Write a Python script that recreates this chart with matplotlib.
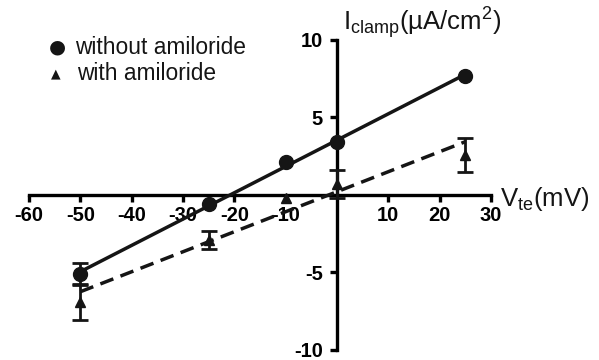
import matplotlib
matplotlib.use("Agg")
import matplotlib.pyplot as plt
import numpy as np

plt.rcParams['font.family'] = ['Liberation Sans', 'DejaVu Sans']
plt.rcParams['mathtext.fontset'] = 'custom'
plt.rcParams['mathtext.rm'] = 'Liberation Sans'
plt.rcParams['mathtext.it'] = 'Liberation Sans:italic'
plt.rcParams['mathtext.bf'] = 'Liberation Sans:bold'

# Data
voltage = [-50, -25, -10, 0, 25]
without_mean = [-5.1, -0.6, 2.1, 3.4, 7.7]
without_err = [0.7, 0.0, 0.0, 0.0, 0.0]
with_mean = [-6.9, -2.9, -0.2, 0.7, 2.6]
with_err = [1.15, 0.6, 0.0, 0.9, 1.1]
xticks = [-60, -50, -40, -30, -20, -10, 10, 20, 30]
yticks = [-10, -5, 5, 10]

fig = plt.figure(figsize=(5.99, 3.6), dpi=100)
ax = fig.add_axes([0.0484, 0.028, 0.7713, 0.8609])
ax.set_xlim(-60, 30)
ax.set_ylim(-10, 10)

lw = 2.4
for side in ['top', 'right']:
    ax.spines[side].set_visible(False)
ax.spines['left'].set_position(('data', 0))
ax.spines['bottom'].set_position(('data', 0))
ax.spines['left'].set_linewidth(lw)
ax.spines['bottom'].set_linewidth(lw)

ax.set_xticks(xticks)
ax.set_yticks(yticks)
ax.set_xticklabels([str(t) for t in xticks], fontweight='bold', fontsize=14.5)
ax.set_yticklabels([str(t) for t in yticks], fontweight='bold', fontsize=14.5)
ax.tick_params(axis='x', direction='out', length=5, width=lw, pad=3)
ax.tick_params(axis='y', direction='out', length=5, width=lw, pad=5)

xv = np.array(voltage, dtype=float)
ink = '#151515'
# Linear regressions
for means, ls in [(without_mean, '-'), (with_mean, (0, (4.0, 2.2)))]:
    slope, icpt = np.polyfit(xv, np.array(means), 1)
    xx = np.array([xv.min(), xv.max()])
    ax.plot(xx, slope * xx + icpt, color=ink, lw=2.5, linestyle=ls,
            clip_on=False, zorder=3)

def draw(means, errs, marker, ms):
    m = np.array(means)
    e = np.array(errs)
    has = e > 0
    ax.errorbar(xv[has], m[has], yerr=e[has], fmt='none', ecolor=ink,
                capsize=6, elinewidth=2, capthick=2, clip_on=False, zorder=4)
    ax.plot(xv, m, linestyle='none', marker=marker, markersize=ms, color=ink,
            clip_on=False, zorder=5)

draw(without_mean, without_err, 'o', 10)
draw(with_mean, with_err, '^', 7)

# Legend (manual)
fig.text(57 / 599, 1 - 47 / 360, '\u25CF', fontsize=14, ha='center', va='center', color=ink,
         family=['DejaVu Sans'])
fig.text(75 / 599, 1 - 47 / 360, 'without amiloride', fontsize=16.4, ha='left', va='center',
         color=ink)
fig.text(56 / 599, 1 - 74 / 360, '\u25B2', fontsize=9, ha='center', va='center', color=ink,
         family=['DejaVu Sans'])
fig.text(77 / 599, 1 - 74 / 360, 'with amiloride', fontsize=16.4, ha='left', va='center',
         color=ink)

# Axis titles
fig.text(343 / 599, 1 - 30 / 360, r'I$_{\rm clamp}$(µA/cm$^{\rm 2}$)', fontsize=18.5,
         ha='left', va='baseline', color=ink)
fig.text(500 / 599, 1 - 206 / 360, r'V$_{\rm te}$(mV)', fontsize=18.5,
         ha='left', va='baseline', color=ink)

fig.savefig('out.png', dpi=100)
